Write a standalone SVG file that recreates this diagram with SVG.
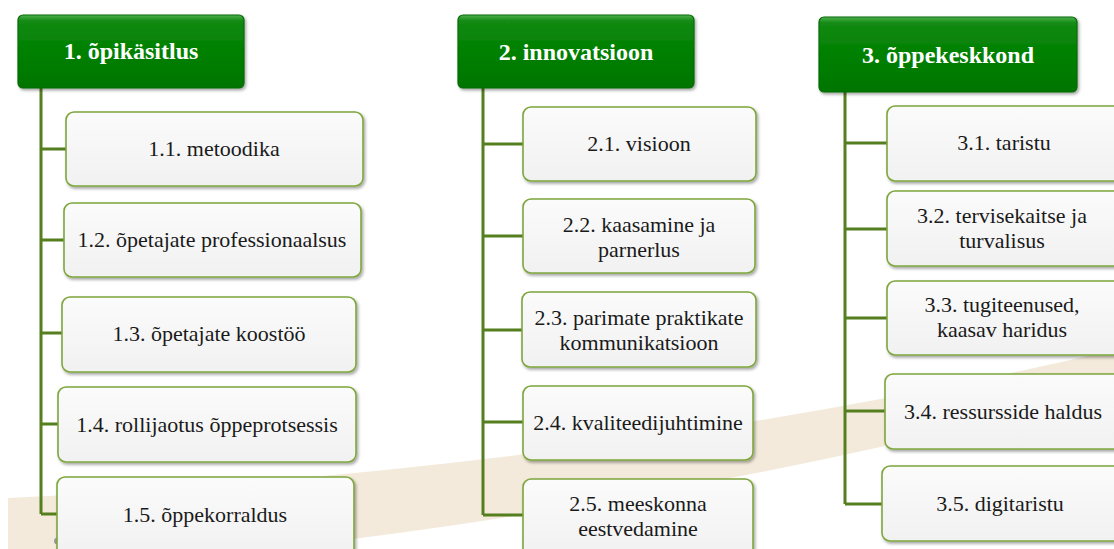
<svg xmlns="http://www.w3.org/2000/svg" width="1114" height="549" viewBox="0 0 1114 549">
<style>
.hdr{stroke:#0a6a0a;stroke-width:1.2}
.hdrt{font-family:"Liberation Serif","DejaVu Serif",serif;font-weight:bold;font-size:24px;fill:#ffffff;text-anchor:middle}
.box{fill:url(#boxg);stroke:#7ea63c;stroke-width:1.6}
.t{font-family:"Liberation Serif","DejaVu Serif",serif;font-size:22px;fill:#1a1a1a;text-anchor:middle}
.conn{fill:none;stroke:#557f1e;stroke-width:3}
</style>
<defs>
<linearGradient id="hg" x1="0" y1="0" x2="0" y2="1">
<stop offset="0" stop-color="#4fb04f"/>
<stop offset="0.08" stop-color="#138a13"/>
<stop offset="0.5" stop-color="#008000"/>
<stop offset="1" stop-color="#007500"/>
</linearGradient>
<linearGradient id="boxg" x1="0" y1="0" x2="0" y2="1">
<stop offset="0" stop-color="#fbfbfb"/>
<stop offset="1" stop-color="#f1f1f1"/>
</linearGradient>
<filter id="sh" x="-10%" y="-10%" width="125%" height="130%">
<feDropShadow dx="1.5" dy="2" stdDeviation="1.5" flood-color="#000" flood-opacity="0.35"/>
</filter>
</defs>
<rect width="1114" height="549" fill="#ffffff"/>
<path d="M8,498 Q600,470 1114,350 L1114,390 Q700,500 270,549 L8,549 Z" fill="#f3eadb"/>
<ellipse cx="58" cy="541" rx="4" ry="3.5" fill="#9a9a9a"/>
<g id="connectors">
<path class="conn" d="M41,88 V514 M41,149 H66 M41,240 H64 M41,333 H62 M41,424 H58 M41,514 H57"/>
<path class="conn" d="M483,88 V515 M483,144 H523 M483,236 H523 M483,330 H522 M483,422 H523 M483,515 H523"/>
<path class="conn" d="M845,92 V504 M845,143 H887 M845,229 H887 M845,318 H887 M845,411 H885 M845,504 H882"/>
</g>
<g id="h1"><rect class="hdr" x="18" y="15" width="226" height="73" rx="5" fill="url(#hg)" filter="url(#sh)"/><text class="hdrt" x="131" y="59">1. õpikäsitlus</text></g>
<g id="h2"><rect class="hdr" x="458" y="15" width="236" height="73" rx="5" fill="url(#hg)" filter="url(#sh)"/><text class="hdrt" x="576" y="60">2. innovatsioon</text></g>
<g id="h3"><rect class="hdr" x="819" y="17" width="258" height="75" rx="5" fill="url(#hg)" filter="url(#sh)"/><text class="hdrt" x="948" y="63">3. õppekeskkond</text></g>

<g id="n11"><rect class="box" x="66" y="112" width="297" height="74" rx="8" filter="url(#sh)"/><text class="t" x="214" y="156">1.1. metoodika</text></g>
<g id="n12"><rect class="box" x="64" y="203" width="297" height="74" rx="8" filter="url(#sh)"/><text class="t" x="212" y="247">1.2. õpetajate professionaalsus</text></g>
<g id="n13"><rect class="box" x="62" y="297" width="294" height="75" rx="8" filter="url(#sh)"/><text class="t" x="209" y="341">1.3. õpetajate koostöö</text></g>
<g id="n14"><rect class="box" x="58" y="387" width="298" height="75" rx="8" filter="url(#sh)"/><text class="t" x="207" y="432">1.4. rollijaotus õppeprotsessis</text></g>
<g id="n15"><rect class="box" x="57" y="477" width="297" height="80" rx="8" filter="url(#sh)"/><text class="t" x="205" y="522">1.5. õppekorraldus</text></g>

<g id="n21"><rect class="box" x="523" y="107" width="233" height="74" rx="8" filter="url(#sh)"/><text class="t" x="639" y="151">2.1. visioon</text></g>
<g id="n22"><rect class="box" x="523" y="199" width="232" height="74" rx="8" filter="url(#sh)"/><text class="t" x="639" y="232">2.2. kaasamine ja</text><text class="t" x="639" y="257">parnerlus</text></g>
<g id="n23"><rect class="box" x="522" y="292" width="234" height="75" rx="8" filter="url(#sh)"/><text class="t" x="639" y="325">2.3. parimate praktikate</text><text class="t" x="639" y="350">kommunikatsioon</text></g>
<g id="n24"><rect class="box" x="523" y="386" width="230" height="74" rx="8" filter="url(#sh)"/><text class="t" x="638" y="430">2.4. kvaliteedijuhtimine</text></g>
<g id="n25"><rect class="box" x="523" y="479" width="230" height="78" rx="8" filter="url(#sh)"/><text class="t" x="638" y="511">2.5. meeskonna</text><text class="t" x="638" y="536">eestvedamine</text></g>

<g id="n31"><rect class="box" x="887" y="106" width="240" height="75" rx="8" filter="url(#sh)"/><text class="t" x="1004" y="150">3.1. taristu</text></g>
<g id="n32"><rect class="box" x="887" y="191" width="240" height="75" rx="8" filter="url(#sh)"/><text class="t" x="1002" y="223">3.2. tervisekaitse ja</text><text class="t" x="1002" y="248">turvalisus</text></g>
<g id="n33"><rect class="box" x="887" y="281" width="240" height="74" rx="8" filter="url(#sh)"/><text class="t" x="1002" y="312">3.3. tugiteenused,</text><text class="t" x="1002" y="337">kaasav haridus</text></g>
<g id="n34"><rect class="box" x="885" y="374" width="240" height="75" rx="8" filter="url(#sh)"/><text class="t" x="1003" y="419">3.4. ressursside haldus</text></g>
<g id="n35"><rect class="box" x="882" y="466" width="240" height="75" rx="8" filter="url(#sh)"/><text class="t" x="1000" y="511">3.5. digitaristu</text></g>
</svg>
